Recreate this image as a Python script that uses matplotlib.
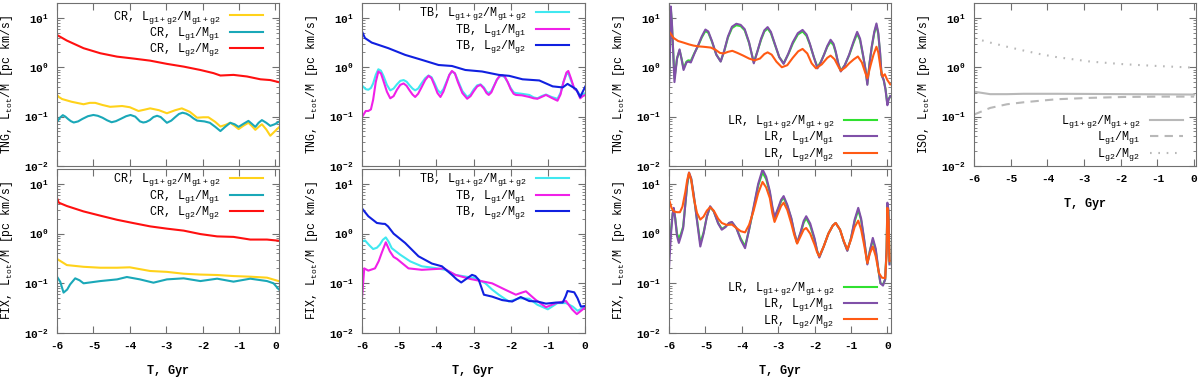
import matplotlib
matplotlib.use('Agg')
import matplotlib.pyplot as plt

plt.rcParams['font.family'] = ['Liberation Mono', 'DejaVu Sans']
plt.rcParams['font.weight'] = 'bold'
plt.rcParams['axes.unicode_minus'] = False
plt.rcParams['mathtext.fontset'] = 'custom'
plt.rcParams['mathtext.rm'] = 'Liberation Mono'

# ---------------- CR, TNG ----------------
t_cr_tng_g2 = [-6.0, -5.73, -5.27, -4.81, -4.35, -3.9, -3.44, -2.98, -2.52, -2.06, -1.7, -1.51,
               -1.15, -0.78, -0.41, -0.14, 0.09]
cr_tng_g2 = [4.5, 3.47, 2.43, 1.92, 1.64, 1.5, 1.36, 1.17, 1.03, 0.88, 0.76, 0.68,
             0.70, 0.65, 0.57, 0.55, 0.5]
t_cr_tng_all = [-6.0, -5.95, -5.86, -5.6, -5.27, -5.1, -4.95, -4.75, -4.54, -4.21, -4.0, -3.76,
                -3.6, -3.44, -3.2, -2.98, -2.75, -2.57, -2.35, -2.15, -1.98, -1.84, -1.65,
                -1.51, -1.37, -1.24, -1.12, -1.01, -0.87, -0.74, -0.65, -0.55, -0.46, -0.37,
                -0.25, -0.14, -0.02, 0.09]
cr_tng_all = [0.275, 0.25, 0.227, 0.2, 0.178, 0.19, 0.19, 0.172, 0.158, 0.164, 0.155, 0.13,
              0.138, 0.147, 0.135, 0.117, 0.135, 0.147, 0.125, 0.095, 0.097, 0.097, 0.078,
              0.063, 0.068, 0.075, 0.065, 0.056, 0.066, 0.075, 0.065, 0.054, 0.062, 0.07,
              0.055, 0.041, 0.05, 0.06]
t_cr_tng_g1 = [-6.0, -5.92, -5.84, -5.77, -5.7, -5.62, -5.54, -5.42, -5.3, -5.15, -5.0, -4.88,
               -4.75, -4.62, -4.5, -4.38, -4.25, -4.1, -3.98, -3.85, -3.72, -3.63, -3.55,
               -3.45, -3.35, -3.25, -3.15, -3.06, -2.98, -2.86, -2.75, -2.65, -2.55, -2.45,
               -2.35, -2.25, -2.15, -1.95, -1.8, -1.65, -1.51, -1.38, -1.24, -1.12, -1.01,
               -0.87, -0.74, -0.65, -0.55, -0.46, -0.37, -0.25, -0.14, -0.02, 0.09]
cr_tng_g1 = [0.078, 0.095, 0.107, 0.1, 0.09, 0.081, 0.076, 0.08, 0.09, 0.102, 0.108, 0.104,
             0.095, 0.084, 0.077, 0.081, 0.09, 0.102, 0.108, 0.1, 0.08, 0.076, 0.078,
             0.085, 0.098, 0.104, 0.098, 0.085, 0.075, 0.083, 0.098, 0.113, 0.12, 0.115,
             0.105, 0.092, 0.083, 0.08, 0.075, 0.062, 0.051, 0.062, 0.075, 0.07, 0.062,
             0.072, 0.082, 0.072, 0.062, 0.075, 0.085, 0.075, 0.065, 0.07, 0.078]

# ---------------- CR, FIX ----------------
t_cr_fix_g2 = [-6.0, -5.95, -5.73, -5.27, -4.81, -4.35, -3.9, -3.44, -2.98, -2.52, -2.06, -1.6,
               -1.15, -0.69, -0.23, 0.09]
cr_fix_g2 = [5.2, 4.2, 3.6, 2.8, 2.3, 1.9, 1.63, 1.4, 1.26, 1.15, 0.98, 0.88,
             0.86, 0.76, 0.76, 0.72]
t_cr_fix_all = [-6.0, -5.73, -5.27, -4.81, -4.35, -4.0, -3.44, -2.98, -2.52, -2.06, -1.6,
                -1.15, -0.69, -0.23, 0.09]
cr_fix_all = [0.31, 0.233, 0.215, 0.206, 0.206, 0.21, 0.177, 0.17, 0.156, 0.15, 0.147,
              0.14, 0.136, 0.13, 0.111]
t_cr_fix_g1 = [-6.0, -5.91, -5.82, -5.72, -5.64, -5.5, -5.38, -5.27, -4.81, -4.35, -4.08,
               -3.72, -3.35, -2.98, -2.52, -2.06, -1.6, -1.15, -0.69, -0.23, -0.05, 0.09]
cr_fix_g1 = [0.136, 0.107, 0.065, 0.075, 0.095, 0.126, 0.115, 0.1, 0.111, 0.12, 0.134,
             0.12, 0.103, 0.12, 0.126, 0.111, 0.124, 0.108, 0.124, 0.111, 0.1, 0.076]

# ---------------- TB, TNG ----------------
t_tb_tng = [-5.99, -5.9, -5.83, -5.76, -5.7, -5.63, -5.56, -5.49, -5.42, -5.33, -5.24, -5.15,
            -5.06, -4.97, -4.88, -4.8, -4.72, -4.64, -4.57, -4.49, -4.4, -4.3, -4.21, -4.13,
            -4.05, -3.97, -3.89, -3.81, -3.73, -3.65, -3.58, -3.5, -3.42, -3.3, -3.17, -3.08,
            -2.99, -2.9, -2.81, -2.72, -2.65, -2.59, -2.52, -2.45, -2.37, -2.3, -2.23, -2.16,
            -2.08, -2.0, -1.92, -1.86, -1.7, -1.5, -1.38, -1.28, -1.17, -1.05, -0.9, -0.74,
            -0.66, -0.58, -0.5, -0.45, -0.38, -0.29, -0.21, -0.13, -0.06, 0.01]
tb_tng_all = [0.42, 0.36, 0.35, 0.38, 0.47, 0.7, 0.91, 0.85, 0.66, 0.44, 0.34, 0.37,
              0.45, 0.53, 0.55, 0.51, 0.43, 0.37, 0.34, 0.37, 0.47, 0.6, 0.68, 0.63,
              0.48, 0.35, 0.3, 0.36, 0.5, 0.7, 0.82, 0.75, 0.54, 0.33, 0.25, 0.28,
              0.36, 0.43, 0.45, 0.39, 0.32, 0.3, 0.33, 0.42, 0.56, 0.65, 0.67, 0.63,
              0.5, 0.38, 0.31, 0.3, 0.29, 0.275, 0.245, 0.235, 0.26, 0.28, 0.25, 0.23,
              0.3, 0.5, 0.72, 0.76, 0.55, 0.37, 0.33, 0.27, 0.28, 0.3]
tb_tng_g1 = [0.1, 0.13, 0.13, 0.14, 0.22, 0.5, 0.82, 0.75, 0.52, 0.32, 0.235, 0.26,
             0.35, 0.44, 0.47, 0.42, 0.34, 0.28, 0.25, 0.29, 0.39, 0.55, 0.67, 0.6,
             0.43, 0.3, 0.25, 0.32, 0.47, 0.7, 0.84, 0.75, 0.5, 0.3, 0.23, 0.26,
             0.33, 0.41, 0.44, 0.37, 0.3, 0.275, 0.31, 0.41, 0.56, 0.66, 0.69, 0.65,
             0.5, 0.36, 0.29, 0.275, 0.27, 0.25, 0.235, 0.23, 0.25, 0.275, 0.24, 0.21,
             0.28, 0.5, 0.78, 0.84, 0.6, 0.37, 0.33, 0.235, 0.26, 0.275]
t_tb_tng_g2 = [-5.99, -5.92, -5.74, -5.29, -4.84, -4.39, -3.94, -3.58, -3.22, -2.77, -2.32,
               -2.04, -1.68, -1.23, -0.87, -0.6, -0.47, -0.24, -0.13, 0.01]
tb_tng_g2 = [5.1, 3.9, 3.16, 2.43, 1.78, 1.41, 1.11, 1.06, 0.88, 0.82, 0.7,
             0.67, 0.57, 0.54, 0.41, 0.39, 0.46, 0.36, 0.25, 0.41]

# ---------------- TB, FIX ----------------
t_tb_fix_g2 = [-5.99, -5.83, -5.6, -5.45, -5.38, -5.3, -5.15, -4.84, -4.48, -4.12, -3.85,
               -3.58, -3.45, -3.33, -3.18, -3.04, -2.95, -2.86, -2.72, -2.5, -2.23, -1.96,
               -1.73, -1.5, -1.28, -1.05, -0.78, -0.6, -0.52, -0.47, -0.29, -0.2, -0.11, 0.01]
tb_fix_g2 = [3.15, 2.24, 1.64, 1.58, 1.57, 1.4, 1.0, 0.65, 0.35, 0.25, 0.22,
             0.148, 0.12, 0.104, 0.125, 0.148, 0.14, 0.118, 0.059, 0.054, 0.046, 0.043,
             0.053, 0.044, 0.043, 0.039, 0.041, 0.041, 0.055, 0.07, 0.066, 0.05, 0.034, 0.035]
t_tb_fix_all = [-5.99, -5.92, -5.8, -5.7, -5.6, -5.52, -5.44, -5.36, -5.28, -5.2, -4.97, -4.7,
                -4.39, -4.03, -3.76, -3.49, -3.22, -2.95, -2.68, -2.5, -2.32, -2.05, -1.77,
                -1.5, -1.28, -1.0, -0.74, -0.51, -0.33, -0.2, 0.01]
tb_fix_all = [0.7, 0.73, 0.58, 0.49, 0.52, 0.6, 0.75, 0.84, 0.68, 0.51, 0.376, 0.276,
              0.22, 0.203, 0.187, 0.148, 0.137, 0.127, 0.1, 0.075, 0.059, 0.043, 0.05,
              0.049, 0.037, 0.03, 0.04, 0.04, 0.034, 0.028, 0.034]
t_tb_fix_g1 = [-6.0, -5.94, -5.83, -5.65, -5.55, -5.47, -5.36, -5.25, -5.15, -5.06, -4.75,
               -4.39, -3.98, -3.8, -3.49, -3.08, -2.77, -2.5, -2.14, -1.86, -1.7, -1.59,
               -1.32, -1.05, -0.78, -0.51, -0.35, -0.22, 0.01]
tb_fix_g1 = [0.05, 0.2, 0.18, 0.2, 0.28, 0.41, 0.67, 0.44, 0.34, 0.31, 0.2,
             0.187, 0.195, 0.2, 0.148, 0.122, 0.11, 0.1, 0.074, 0.059, 0.065, 0.069,
             0.046, 0.033, 0.04, 0.044, 0.03, 0.024, 0.033]

# ---------------- LR, TNG ----------------
t_lr_tng = [-6.0, -5.98, -5.95, -5.92, -5.89, -5.85, -5.78, -5.71, -5.65, -5.6, -5.52, -5.47,
            -5.4, -5.3, -5.2, -5.1, -5.0, -4.92, -4.82, -4.7, -4.58, -4.48, -4.38, -4.27,
            -4.15, -4.03, -3.92, -3.8, -3.67, -3.57, -3.47, -3.38, -3.29, -3.2, -3.1, -2.97,
            -2.85, -2.72, -2.6, -2.46, -2.33, -2.22, -2.13, -2.02, -1.92, -1.83, -1.74, -1.65,
            -1.56, -1.48, -1.42, -1.35, -1.28, -1.17, -1.05, -0.93, -0.83, -0.75, -0.67, -0.6,
            -0.55, -0.49, -0.43, -0.36, -0.3, -0.25, -0.2, -0.16, -0.1, -0.05, 0.0, 0.03, 0.08]
lr_tng_g1 = [0.4, 1.2, 17, 8, 2.5, 0.5, 1.5, 2.3, 1.4, 0.88, 1.25, 1.3,
             1.25, 1.9, 2.8, 4.2, 5.8, 5.3, 3.4, 1.8, 1.3, 2.2, 4.2, 6.6,
             7.6, 7.2, 5.9, 3.2, 1.2, 2.1, 3.8, 5.6, 6.5, 5.2, 3.1, 1.6,
             1.17, 1.9, 3.2, 4.9, 5.7, 4.6, 3.0, 1.6, 0.95, 1.25, 1.8, 2.7,
             3.6, 3.0, 2.1, 1.2, 0.82, 1.1, 1.8, 3.3, 5.2, 3.8, 1.8, 0.9,
             0.44, 1.2, 2.6, 5.2, 7.7, 5.0, 2.0, 0.7, 0.55, 0.35, 0.17, 0.22, 0.26]
lr_tng_all = [0.55, 1.2, 15, 7.5, 2.5, 0.6, 1.5, 2.2, 1.45, 0.95, 1.3, 1.38,
              1.35, 1.95, 2.7, 4.0, 5.4, 5.0, 3.3, 1.8, 1.32, 2.15, 4.0, 6.2,
              7.1, 6.8, 5.6, 3.1, 1.25, 2.1, 3.6, 5.3, 6.1, 4.9, 3.0, 1.6,
              1.2, 1.85, 3.0, 4.6, 5.3, 4.3, 2.9, 1.6, 1.0, 1.28, 1.8, 2.6,
              3.3, 2.8, 2.0, 1.2, 0.85, 1.1, 1.75, 3.1, 4.8, 3.5, 1.75, 0.9,
              0.46, 1.2, 2.5, 4.9, 7.1, 4.7, 1.9, 0.7, 0.55, 0.36, 0.18, 0.22, 0.26]
t_lr_tng_g2 = [-6.0, -5.87, -5.75, -5.6, -5.45, -5.33, -5.2, -5.06, -4.95, -4.85, -4.72, -4.6,
               -4.5, -4.38, -4.26, -4.12, -3.96, -3.8, -3.65, -3.5, -3.38, -3.29, -3.18, -3.05,
               -2.9, -2.75, -2.6, -2.45, -2.33, -2.2, -2.08, -1.96, -1.8, -1.65, -1.56, -1.45,
               -1.32, -1.28, -1.15, -1.05, -0.92, -0.81, -0.7, -0.6, -0.55, -0.46, -0.38, -0.3,
               -0.25, -0.18, -0.13, -0.07, 0.0, 0.08]
lr_tng_g2 = [5.3, 3.9, 3.4, 3.15, 2.9, 2.75, 2.65, 2.6, 2.55, 2.5, 2.25, 1.95,
             1.9, 2.05, 2.15, 1.95, 1.72, 1.5, 1.38, 1.5, 1.85, 2.0, 1.8, 1.3,
             1.0, 1.1, 1.55, 2.1, 2.35, 1.9, 1.2, 0.95, 1.15, 1.55, 1.72, 1.45,
             0.95, 0.85, 1.0, 1.2, 1.45, 1.65, 1.25, 0.75, 0.6, 1.1, 1.8, 2.6,
             2.0, 0.9, 0.65, 0.72, 0.55, 0.45]

# ---------------- LR, FIX ----------------
t_lr_fix = [-6.0, -5.97, -5.94, -5.9, -5.87, -5.83, -5.78, -5.73, -5.67, -5.61, -5.55, -5.5,
            -5.45, -5.39, -5.32, -5.23, -5.14, -5.05, -4.96, -4.87, -4.77, -4.65, -4.55, -4.45,
            -4.35, -4.27, -4.15, -4.03, -3.91, -3.8, -3.68, -3.55, -3.43, -3.33, -3.23, -3.16,
            -3.1, -3.0, -2.92, -2.85, -2.75, -2.64, -2.56, -2.48, -2.38, -2.3, -2.23, -2.12,
            -2.0, -1.93, -1.87, -1.75, -1.62, -1.5, -1.42, -1.3, -1.2, -1.1, -1.0, -0.9,
            -0.8, -0.72, -0.64, -0.55, -0.48, -0.4, -0.32, -0.25, -0.19, -0.12, -0.06, -0.02,
            0.0, 0.03, 0.06]
lr_fix_g1 = [0.2, 0.5, 1.1, 2.5, 3.3, 2.0, 0.9, 0.65, 0.9, 1.3, 4.0, 10,
             17, 13, 6.1, 1.8, 0.55, 1.0, 2.2, 3.56, 2.8, 1.6, 1.2, 1.35,
             1.65, 1.72, 1.3, 0.75, 0.51, 1.2, 3.3, 10, 19.6, 14, 7.2, 3.5,
             2.14, 3.3, 4.8, 5.7, 3.8, 2.07, 1.1, 0.65, 1.1, 1.8, 2.24, 1.6,
             0.8, 0.45, 0.33, 0.55, 1.0, 1.45, 1.64, 1.2, 0.7, 0.45, 0.8, 1.9,
             3.3, 2.0, 0.8, 0.24, 0.45, 0.82, 0.5, 0.2, 0.1, 0.09, 0.12, 0.5,
             4.2, 3.0, 0.24]
lr_fix_all = [0.5, 0.8, 1.3, 2.5, 3.1, 2.1, 1.0, 0.8, 1.0, 1.4, 4.0, 9.5,
              16, 12.5, 5.8, 1.9, 0.65, 1.05, 2.2, 3.45, 2.8, 1.65, 1.25, 1.38,
              1.62, 1.68, 1.3, 0.8, 0.56, 1.2, 3.1, 9.2, 17, 12.5, 6.6, 3.2,
              2.0, 3.1, 4.5, 5.3, 3.6, 2.0, 1.05, 0.65, 1.05, 1.65, 2.05, 1.45,
              0.75, 0.45, 0.34, 0.55, 1.0, 1.45, 1.64, 1.2, 0.7, 0.46, 0.8, 1.75,
              3.0, 1.85, 0.75, 0.25, 0.45, 0.75, 0.46, 0.19, 0.1, 0.095, 0.12, 0.5,
              3.8, 2.7, 0.25]
t_lr_fix_g2 = [-6.0, -5.93, -5.87, -5.78, -5.7, -5.63, -5.55, -5.5, -5.45, -5.39, -5.32, -5.23,
               -5.14, -5.05, -4.96, -4.87, -4.77, -4.65, -4.55, -4.42, -4.27, -4.15, -4.03,
               -3.91, -3.8, -3.68, -3.55, -3.43, -3.33, -3.23, -3.16, -3.1, -3.0, -2.92, -2.85,
               -2.75, -2.64, -2.56, -2.48, -2.38, -2.3, -2.23, -2.12, -2.0, -1.93, -1.87, -1.75,
               -1.62, -1.5, -1.42, -1.3, -1.2, -1.1, -1.0, -0.9, -0.8, -0.72, -0.64, -0.55,
               -0.48, -0.4, -0.32, -0.23, -0.15, -0.06, -0.02, 0.0, 0.03, 0.06]
lr_fix_g2 = [4.9, 3.3, 2.8, 2.7, 2.7, 3.5, 7, 12, 16.8, 12, 5.2, 2.6,
             1.92, 2.2, 2.9, 3.4, 2.9, 2.0, 1.64, 1.5, 1.52, 1.3, 1.12,
             1.06, 1.5, 2.8, 6.5, 11, 8.5, 5.2, 2.6, 1.72, 2.6, 3.6, 4.2,
             3.0, 1.6, 0.95, 0.63, 0.9, 1.2, 1.3, 1.0, 0.6, 0.42, 0.35, 0.55,
             1.0, 1.45, 1.64, 1.2, 0.72, 0.48, 0.75, 1.35, 1.83, 1.2, 0.6, 0.255,
             0.4, 0.55, 0.35, 0.16, 0.13, 0.127, 0.4, 3.3, 2.0, 0.28]

# ---------------- ISO ----------------
t_iso = [-6.0, -5.56, -5.1, -4.65, -4.19, -3.74, -2.82, -1.91, -1.0, 0.0]
iso_all = [0.32, 0.285, 0.285, 0.29, 0.29, 0.29, 0.288, 0.285, 0.283, 0.28]
iso_g1 = [0.11, 0.15, 0.178, 0.195, 0.21, 0.225, 0.24, 0.25, 0.254, 0.254]
iso_g2 = [3.87, 3.16, 2.6, 2.18, 1.84, 1.6, 1.3, 1.15, 1.06, 0.98]

lab_all = r'L$\mathregular{_{g1+g2}}$/M$\mathregular{_{g1+g2}}$'
lab_g1 = r'L$\mathregular{_{g1}}$/M$\mathregular{_{g1}}$'
lab_g2 = r'L$\mathregular{_{g2}}$/M$\mathregular{_{g2}}$'

W, H = 1200, 380
cols = [(57, 279, 0.1), (362, 585, 0.0), (669, 891, 0.1), (974, 1196, 0.05)]
rows = [(3, 166), (169, 333)]


def make_ax(col, row):
    x0, x1, xmax = cols[col]
    y0, y1 = rows[row]
    ax = fig.add_axes([x0 / W, 1 - y1 / H, (x1 - x0) / W, (y1 - y0) / H])
    ax.set_yscale('log')
    ax.set_ylim(1e-2, 20)
    ax.set_xlim(-6, xmax)
    ax.set_xticks(range(-6, 1))
    ax.tick_params(which='both', direction='in', top=True, right=True,
                   color='#707070', labelsize=8, pad=6)
    ax.tick_params(which='major', length=5)
    ax.tick_params(which='minor', length=2.5)
    for s in ax.spines.values():
        s.set_color('#707070')
    return ax


def legend(ax, loc, anchor):
    ax.legend(loc=loc, bbox_to_anchor=anchor, frameon=False, markerfirst=False,
              handlelength=2.8, handletextpad=0.8, labelspacing=-0.06,
              borderaxespad=0, borderpad=0,
              prop=dict(family='Liberation Mono', size=8.5, weight='normal'))


def ylab(ax, name):
    ax.set_ylabel(name + r', L$\mathregular{_{tot}}$/M [pc km/s]', fontsize=8.3,
                  fontweight='normal')
    ax.yaxis.set_label_coords(-0.19, 0.5)


def xlab(ax):
    ax.set_xlabel('T, Gyr', fontsize=8.5, fontweight='bold', labelpad=10)


fig = plt.figure(figsize=(12, 3.8), dpi=100)
lw = 1.5

# CR
ax = make_ax(0, 0)
ax.plot(t_cr_tng_all, cr_tng_all, color='#ffd21a', lw=lw, label='CR, ' + lab_all)
ax.plot(t_cr_tng_g1, cr_tng_g1, color='#1aa8b8', lw=lw, label='CR, ' + lab_g1)
ax.plot(t_cr_tng_g2, cr_tng_g2, color='#ff1010', lw=lw, label='CR, ' + lab_g2)
ax.tick_params(labelbottom=False)
ylab(ax, 'TNG')
legend(ax, 'upper right', (0.928, 0.965))

ax = make_ax(0, 1)
ax.plot(t_cr_fix_all, cr_fix_all, color='#ffd21a', lw=lw, label='CR, ' + lab_all)
ax.plot(t_cr_fix_g1, cr_fix_g1, color='#1aa8b8', lw=lw, label='CR, ' + lab_g1)
ax.plot(t_cr_fix_g2, cr_fix_g2, color='#ff1010', lw=lw, label='CR, ' + lab_g2)
ylab(ax, 'FIX')
xlab(ax)
legend(ax, 'upper right', (0.928, 0.985))

# TB
ax = make_ax(1, 0)
ax.plot(t_tb_tng, tb_tng_all, color='#40e8f0', lw=lw, label='TB, ' + lab_all)
ax.plot(t_tb_tng, tb_tng_g1, color='#f020e8', lw=lw, label='TB, ' + lab_g1)
ax.plot(t_tb_tng_g2, tb_tng_g2, color='#1020e0', lw=lw, label='TB, ' + lab_g2)
ax.tick_params(labelbottom=False)
ylab(ax, 'TNG')
legend(ax, 'upper right', (0.928, 0.985))

ax = make_ax(1, 1)
ax.plot(t_tb_fix_all, tb_fix_all, color='#40e8f0', lw=lw, label='TB, ' + lab_all)
ax.plot(t_tb_fix_g1, tb_fix_g1, color='#f020e8', lw=lw, label='TB, ' + lab_g1)
ax.plot(t_tb_fix_g2, tb_fix_g2, color='#1020e0', lw=lw, label='TB, ' + lab_g2)
ylab(ax, 'FIX')
xlab(ax)
legend(ax, 'upper right', (0.928, 0.985))

# LR
ax = make_ax(2, 0)
ax.plot(t_lr_tng, lr_tng_all, color='#30e030', lw=lw, label='LR, ' + lab_all)
ax.plot(t_lr_tng, lr_tng_g1, color='#8050a8', lw=lw, label='LR, ' + lab_g1)
ax.plot(t_lr_tng_g2, lr_tng_g2, color='#ff5a14', lw=lw, label='LR, ' + lab_g2)
ax.tick_params(labelbottom=False)
ylab(ax, 'TNG')
legend(ax, 'lower right', (0.937, 0.02))

ax = make_ax(2, 1)
ax.plot(t_lr_fix, lr_fix_all, color='#30e030', lw=lw, label='LR, ' + lab_all)
ax.plot(t_lr_fix, lr_fix_g1, color='#8050a8', lw=lw, label='LR, ' + lab_g1)
ax.plot(t_lr_fix_g2, lr_fix_g2, color='#ff5a14', lw=lw, label='LR, ' + lab_g2)
ylab(ax, 'FIX')
xlab(ax)
legend(ax, 'lower right', (0.937, 0.02))

# ISO
ax = make_ax(3, 0)
ax.plot(t_iso, iso_all, color='#b8b8b8', lw=lw, label=lab_all)
ax.plot(t_iso, iso_g1, color='#b8b8b8', lw=lw, ls=(0, (4, 3)), label=lab_g1)
ax.plot(t_iso, iso_g2, color='#b8b8b8', lw=lw, ls=(0, (0.8, 3.2)), label=lab_g2)
ylab(ax, 'ISO')
xlab(ax)
legend(ax, 'lower right', (0.941, 0.02))

fig.savefig('out.png', dpi=100)
